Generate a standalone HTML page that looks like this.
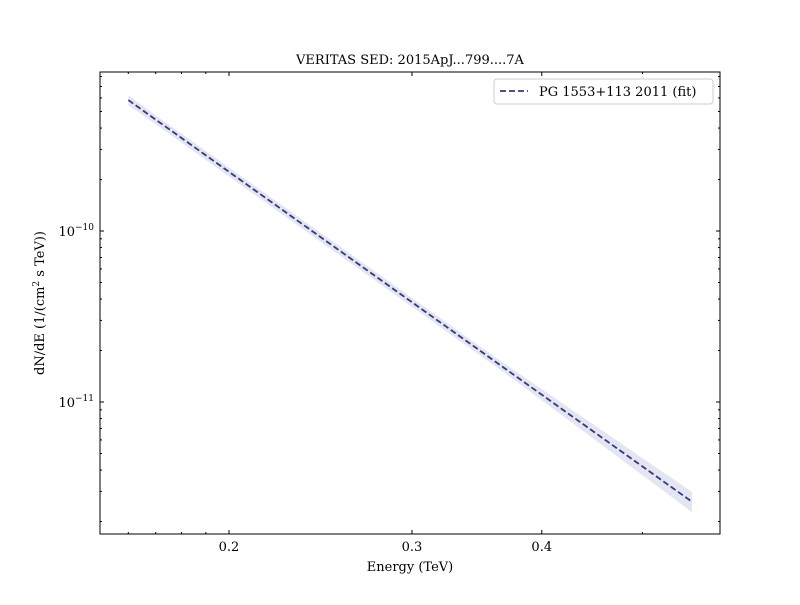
<!DOCTYPE html>
<html><head><meta charset="utf-8"><style>body{margin:0;background:#fff}svg text{font-family:"DejaVu Serif","Liberation Serif",serif}</style></head>
<body>
<svg id="chart" width="800" height="600" xmlns="http://www.w3.org/2000/svg">
<rect width="800" height="600" fill="#fff"/>
<text x="410" y="64" text-anchor="middle" font-size="13">VERITAS SED: 2015ApJ...799....7A</text>
<g id="band"></g>
<g id="line"></g>
<g id="ticks"></g>
<rect x="100" y="72" width="620" height="462" fill="none" stroke="#000" stroke-width="1"/>
<text x="410" y="571" text-anchor="middle" font-size="13">Energy (TeV)</text>
<text transform="translate(44,303) rotate(-90)" text-anchor="middle" font-size="13">dN/dE (1/(cm<tspan font-size="9" dy="-5">2</tspan><tspan dy="5"> s TeV))</tspan></text>
<g>
<rect x="494" y="79" width="219" height="25" rx="3" fill="#fff" stroke="#ccc"/>
<line x1="500" y1="91" x2="528" y2="91" stroke="#36397a" stroke-width="1.8" stroke-dasharray="6,3"/>
<text x="539" y="96" font-size="13">PG 1553+113 2011 (fit)</text>
</g>
</svg>
<script>
const energyRange=[0.16,0.558];
const fitNorm=[5.83e-10];
const fitIndex=[4.33];
const bandLowStart=[0.90], bandHighStart=[1.10];
const bandLowEnd=[0.87], bandHighEnd=[1.14];
const xTickLabels=[0.2,0.3,0.4];
const xMinor=[0.16,0.17,0.18,0.19,0.5];
const yMajor=[-10,-11];

const X0=100,X1=720,Y0=72,Y1=534;
const xs=E=>229+1039*Math.log10(E/0.2);
const ys=v=>231-171*(Math.log10(v)+10);
const ns="http://www.w3.org/2000/svg";
function mk(t,a,p){const e=document.createElementNS(ns,t);for(const k in a)e.setAttribute(k,a[k]);p.appendChild(e);return e;}
const f=E=>fitNorm[0]*Math.pow(E/energyRange[0],-fitIndex[0]);
const N=60,up=[],lo=[],ln=[];
for(let i=0;i<=N;i++){const t=i/N;const E=energyRange[0]*Math.pow(energyRange[1]/energyRange[0],t);
 const v=f(E);const x=xs(E);
 const w=Math.abs(t-0.4)/0.6;
 const wl=t<0.4?w*(1-bandLowStart[0]):w*(1-bandLowEnd[0]);
 const wh=t<0.4?w*(bandHighStart[0]-1):w*(bandHighEnd[0]-1);
 const lf=Math.max(0.06,wl),hf=Math.max(0.06,wh);
 up.push(x+","+ys(v*(1+hf)));lo.unshift(x+","+ys(v*(1-lf)));ln.push(x+","+ys(v));}
const bp=mk("polygon",{points:up.concat(lo).join(" "),fill:"#e3e5f2",stroke:"none"},document.getElementById("band"));


const lp=mk("polyline",{points:ln.join(" "),fill:"none",stroke:"#36397a","stroke-width":1.8,"stroke-dasharray":"6,3"},document.getElementById("line"));


const g=document.getElementById("ticks");
function xt(E,len,lab){const x=xs(E);mk("line",{x1:x,y1:Y1,x2:x,y2:Y1-len,stroke:"#000"},g);mk("line",{x1:x,y1:Y0,x2:x,y2:Y0+len,stroke:"#000"},g);
 if(lab!==undefined){const t=mk("text",{x:x,y:Y1+17,"text-anchor":"middle","font-size":13},g);t.textContent=lab;
 
 }}
xTickLabels.forEach(E=>xt(E,4,String(E)));
xMinor.forEach(E=>xt(E,2));
function yt(v,len){const y=ys(v);if(y<Y0||y>Y1)return;mk("line",{x1:X0,y1:y,x2:X0+len,y2:y,stroke:"#000"},g);mk("line",{x1:X1,y1:y,x2:X1-len,y2:y,stroke:"#000"},g);}
yMajor.forEach(p=>{yt(Math.pow(10,p),4);const t=mk("text",{x:94,y:ys(Math.pow(10,p))+5,"text-anchor":"end","font-size":13},g);
 t.textContent='10';
 const s=mk("tspan",{"font-size":9,dy:-6},t);s.textContent='\u2212'+(-p);
 
 });
for(let p=-12;p<=-10;p++)for(let m=2;m<=9;m++)yt(m*Math.pow(10,p),2);
</script>
</body></html>
